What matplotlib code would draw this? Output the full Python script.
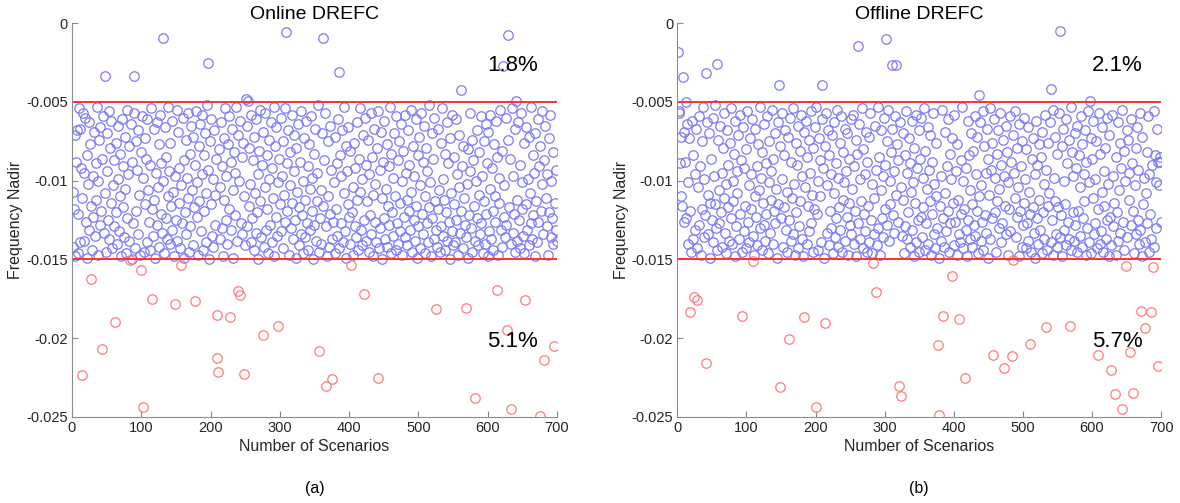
import numpy as np
import matplotlib.pyplot as plt

plt.rcParams['font.family'] = ['Liberation Sans', 'DejaVu Sans']

# frequency nadir in the normal band, 1e-4 units, scenario 1..700
online_band = [
    107, 142, 118, 148, 71, 88, 68, 146, 121, 54, 139, 67, 92, 111, 73, 57, 138, 95, 60, 126, 84, 149, 102, 63, 131,
    77, 116, 58, 144, 97, 123, 69, 135, 89, 112, 53, 147, 100, 74, 128, 66, 119, 86, 141, 59, 133, 81, 108, 145, 70,
    94, 125, 56, 137, 79, 114, 62, 143, 103, 87, 129, 52, 120, 76, 140, 99, 65, 132, 110, 83, 148, 61, 117, 91, 136,
    72, 105, 146, 55, 124, 96, 138, 78, 113, 64, 150, 88, 127, 57, 101, 143, 75, 119, 93, 134, 68, 109, 147, 82, 122,
    59, 130, 98, 145, 73, 115, 86, 139, 61, 106, 126, 90, 144, 54, 118, 80, 135, 67, 112, 149, 95, 63, 128, 104, 77,
    142, 58, 121, 89, 133, 71, 100, 146, 66, 124, 85, 137, 53, 110, 94, 140, 76, 116, 62, 131, 107, 148, 81, 97, 125,
    55, 138, 69, 114, 92, 143, 79, 103, 127, 60, 149, 87, 120, 74, 134, 98, 57, 111, 145, 83, 129, 65, 106, 141, 72,
    117, 90, 136, 56, 123, 101, 147, 78, 113, 64, 132, 96, 58, 144, 84, 119, 70, 139, 108, 52, 126, 93, 150, 75, 115,
    61, 135, 99, 142, 68, 109, 128, 86, 146, 57, 121, 80, 137, 104, 63, 130, 91, 148, 73, 112, 54, 125, 97, 140, 77,
    118, 59, 143, 88, 131, 67, 106, 149, 82, 122, 95, 53, 138, 71, 114, 100, 145, 62, 127, 85, 134, 76, 110, 56, 141,
    93, 129, 65, 147, 79, 116, 102, 139, 58, 124, 87, 144, 72, 108, 133, 61, 120, 96, 150, 81, 113, 55, 136, 90, 126,
    69, 142, 104, 57, 131, 84, 118, 146, 74, 99, 128, 63, 139, 92, 111, 53, 148, 78, 123, 66, 135, 101, 145, 86, 115,
    60, 132, 97, 143, 75, 109, 126, 54, 140, 89, 119, 68, 147, 103, 82, 130, 58, 114, 137, 94, 71, 125, 149, 79, 107,
    64, 141, 117, 88, 134, 56, 122, 100, 146, 73, 112, 136, 62, 127, 91, 144, 77, 105, 131, 59, 119, 98, 150, 83, 128,
    67, 138, 95, 113, 52, 145, 80, 124, 106, 140, 70, 116, 133, 87, 57, 129, 102, 148, 75, 110, 142, 65, 121, 93, 137,
    55, 126, 101, 146, 72, 118, 89, 135, 61, 111, 143, 84, 127, 97, 68, 139, 108, 53, 132, 78, 149, 94, 115, 66, 123,
    81, 140, 58, 120, 104, 147, 76, 129, 92, 136, 63, 112, 144, 86, 107, 54, 131, 99, 141, 71, 117, 125, 60, 138, 90,
    113, 74, 145, 96, 122, 57, 134, 85, 109, 148, 67, 126, 102, 139, 79, 118, 56, 143, 93, 130, 69, 111, 150, 88, 124,
    62, 137, 105, 142, 77, 116, 91, 128, 53, 146, 83, 120, 98, 135, 70, 110, 144, 59, 127, 87, 140, 75, 114, 132, 64,
    100, 147, 81, 123, 58, 136, 95, 112, 141, 68, 119, 90, 131, 55, 107, 145, 78, 125, 97, 138, 61, 116, 149, 84, 129,
    72, 103, 143, 57, 121, 88, 134, 65, 110, 146, 79, 127, 94, 139, 52, 117, 101, 148, 70, 124, 86, 137, 60, 113, 131,
    92, 142, 67, 118, 106, 145, 76, 129, 54, 135, 99, 112, 144, 83, 120, 63, 138, 89, 126, 150, 73, 108, 132, 58, 141,
    85, 115, 139, 61, 125, 96, 147, 71, 104, 133, 56, 119, 91, 143, 78, 111, 128, 65, 136, 102, 149, 80, 122, 94, 57,
    130, 74, 145, 87, 116, 53, 138, 100, 124, 68, 141, 82, 109, 134, 59, 127, 97, 146, 75, 113, 140, 64, 121, 89, 148,
    69, 132, 105, 58, 137, 92, 119, 144, 77, 110, 126, 62, 139, 85, 147, 98, 114, 55, 131, 81, 142, 71, 123, 103, 136,
    60, 128, 93, 149, 74, 117, 86, 140, 106, 54, 133, 97, 121, 67, 145, 79, 112, 138, 63, 125, 90, 143, 57, 118, 101,
    135, 76, 146, 88, 115, 66, 131, 99, 141, 72, 108, 127, 53, 137, 84, 122, 95, 148, 70, 113, 139, 61, 126, 91, 144,
    78, 119, 102, 56, 134, 87, 142, 65, 111, 129, 96, 147, 73, 120, 58, 136, 100, 124, 82, 140, 68, 114, 131, 93, 138,
]
offline_band = [
    55, 57, 56, 89, 110, 72, 116, 58, 126, 69, 88, 107, 124, 64, 140, 101, 73, 119, 93, 145, 62, 137, 84, 112, 96,
    131, 67, 143, 78, 104, 59, 128, 91, 147, 75, 118, 53, 136, 99, 122, 81, 141, 63, 109, 134, 70, 114, 149, 86, 125,
    60, 139, 97, 115, 52, 130, 88, 144, 74, 106, 127, 65, 120, 95, 142, 79, 111, 57, 133, 102, 146, 68, 117, 90, 138,
    76, 124, 54, 140, 100, 113, 83, 148, 62, 129, 94, 108, 71, 137, 58, 121, 87, 145, 104, 66, 132, 92, 116, 143, 80,
    56, 126, 103, 139, 73, 118, 96, 61, 135, 85, 147, 110, 67, 123, 91, 141, 77, 106, 53, 130, 98, 144, 82, 114, 128,
    64, 138, 89, 121, 59, 146, 101, 75, 133, 94, 112, 55, 140, 86, 119, 70, 127, 105, 149, 63, 115, 93, 136, 78, 124,
    99, 57, 142, 84, 117, 68, 131, 107, 145, 72, 96, 125, 60, 138, 88, 111, 54, 134, 102, 147, 76, 120, 90, 143, 65,
    129, 81, 113, 58, 137, 97, 148, 69, 122, 104, 62, 140, 85, 116, 74, 132, 95, 56, 127, 109, 145, 79, 118, 66, 135,
    53, 121, 100, 144, 73, 110, 87, 139, 61, 126, 92, 149, 78, 115, 57, 133, 103, 68, 141, 84, 119, 96, 130, 71, 146,
    108, 63, 136, 89, 124, 55, 142, 98, 117, 76, 131, 59, 145, 82, 112, 101, 67, 138, 94, 123, 70, 147, 86, 114, 128,
    61, 134, 105, 58, 140, 91, 119, 74, 148, 83, 110, 127, 64, 137, 99, 113, 54, 143, 80, 121, 96, 132, 69, 145, 88,
    116, 72, 139, 57, 125, 102, 146, 78, 111, 134, 65, 120, 93, 141, 53, 130, 85, 147, 106, 68, 124, 97, 136, 60, 118,
    90, 143, 75, 128, 55, 138, 100, 115, 82, 149, 67, 122, 94, 133, 59, 109, 140, 77, 126, 87, 144, 63, 117, 104, 135,
    70, 112, 146, 84, 129, 56, 137, 95, 120, 73, 142, 89, 107, 62, 131, 101, 148, 79, 114, 58, 139, 92, 125, 68, 145,
    86, 123, 60, 136, 98, 117, 54, 144, 81, 127, 105, 66, 140, 93, 113, 71, 147, 88, 121, 57, 134, 102, 143, 76, 110,
    130, 64, 149, 85, 116, 97, 138, 55, 124, 79, 142, 108, 69, 132, 91, 119, 61, 145, 83, 127, 99, 136, 73, 114, 141,
    58, 126, 94, 147, 77, 112, 134, 66, 139, 87, 121, 53, 143, 100, 118, 74, 131, 92, 148, 62, 125, 84, 137, 106, 70,
    115, 142, 81, 128, 59, 135, 96, 119, 72, 146, 89, 110, 63, 138, 103, 126, 56, 144, 78, 122, 95, 133, 67, 149, 86,
    109, 54, 137, 93, 124, 76, 141, 61, 120, 98, 145, 83, 113, 68, 130, 105, 57, 139, 90, 127, 74, 143, 97, 116, 65,
    134, 82, 147, 101, 118, 59, 132, 88, 125, 71, 140, 95, 111, 56, 136, 79, 123, 104, 148, 64, 119, 91, 142, 75, 128,
    60, 114, 99, 143, 80, 127, 66, 138, 107, 121, 54, 145, 86, 117, 73, 133, 96, 149, 62, 124, 90, 140, 77, 112, 131,
    85, 146, 69, 120, 102, 137, 58, 129, 93, 144, 76, 116, 108, 63, 139, 87, 125, 55, 147, 98, 113, 72, 134, 83, 142,
    117, 57, 136, 94, 122, 78, 148, 67, 131, 100, 115, 61, 141, 89, 126, 74, 137, 106, 53, 144, 82, 120, 97, 138, 70,
    128, 92, 145, 65, 119, 84, 135, 104, 59, 142, 77, 124, 96, 113, 68, 147, 88, 130, 56, 139, 101, 121, 73, 146, 86,
    111, 62, 134, 99, 127, 75, 143, 91, 118, 57, 140, 83, 132, 107, 66, 145, 94, 116, 79, 137, 60, 125, 102, 148, 71,
    123, 87, 141, 58, 129, 97, 114, 70, 147, 85, 120, 63, 138, 106, 76, 133, 92, 149, 55, 126, 81, 144, 100, 117, 68,
    136, 74, 112, 95, 143, 61, 128, 89, 119, 54, 146, 103, 79, 134, 66, 125, 93, 140, 57, 131, 86, 148, 72, 115, 98,
    64, 139, 108, 82, 127, 59, 145, 96, 121, 73, 137, 90, 113, 56, 142, 84, 130, 101, 67, 124, 88, 103, 85, 88, 126,
]

# scenarios outside the band (scenario number, nadir)
online_out_x = [47, 90, 131, 196, 251, 254, 309, 363, 385, 561, 622, 629, 641,
                15, 28, 44, 62, 84, 100, 102, 116, 148, 157, 178, 209, 210, 211, 228, 240, 242, 249,
                275, 298, 357, 367, 376, 403, 421, 441, 526, 568, 581, 613, 628, 634, 654, 675, 682, 696]
online_out_y = [-0.00336, -0.00336, -0.00093, -0.00256, -0.00482, -0.00495, -0.00059, -0.00093, -0.00313,
                -0.00423, -0.00273, -0.00076, -0.00495,
                -0.02236, -0.01627, -0.02067, -0.01895, -0.01502, -0.01568, -0.02439, -0.01749, -0.01785,
                -0.01534, -0.01764, -0.02124, -0.01855, -0.02217, -0.01868, -0.01703, -0.01724, -0.02229,
                -0.01980, -0.01925, -0.02081, -0.02305, -0.02259, -0.01534, -0.01718, -0.02251, -0.01817,
                -0.01809, -0.02382, -0.01695, -0.01948, -0.02449, -0.01755, -0.02494, -0.02138, -0.02052]
offline_out_x = [1, 8, 12, 42, 57, 147, 210, 261, 302, 310, 317, 436, 541, 554, 597,
                 19, 24, 29, 41, 94, 110, 148, 161, 184, 200, 214, 283, 287, 321, 323, 377, 379, 385, 397,
                 408, 416, 457, 472, 484, 486, 511, 533, 568, 608, 627, 633, 643, 649, 655, 660, 671, 676,
                 685, 688, 695]
offline_out_y = [-0.00183, -0.00345, -0.00498, -0.00316, -0.00259, -0.00394, -0.00390, -0.00143, -0.00101,
                 -0.00267, -0.00267, -0.00457, -0.00415, -0.00048, -0.00497,
                 -0.01836, -0.01739, -0.01758, -0.02158, -0.01862, -0.01508, -0.02308, -0.02003, -0.01864,
                 -0.02439, -0.01902, -0.01525, -0.01705, -0.02301, -0.02366, -0.02045, -0.02487, -0.01857,
                 -0.01606, -0.01880, -0.02252, -0.02105, -0.02189, -0.02113, -0.01503, -0.02035, -0.01929,
                 -0.01925, -0.02105, -0.02200, -0.02352, -0.02451, -0.01542, -0.02086, -0.02350, -0.01828,
                 -0.01935, -0.01834, -0.01549, -0.02179]

titles = ['Online DREFC', 'Offline DREFC']
panel_labels = ['(a)', '(b)']
pct_upper = ['1.8%', '2.1%']
pct_lower = ['5.1%', '5.7%']
limits = [-0.005, -0.015]


def nadir(band, out_x, out_y):
    y = np.array(band) * -1e-4
    y[np.array(out_x) - 1] = out_y
    return y


fig = plt.figure(figsize=(11.8, 5.03), dpi=100)
boxes = [[0.061, 0.171, 0.411, 0.783], [0.574, 0.171, 0.410, 0.783]]
data = [nadir(online_band, online_out_x, online_out_y),
        nadir(offline_band, offline_out_x, offline_out_y)]
x = np.arange(1, 701)

for i in range(2):
    ax = fig.add_axes(boxes[i])
    y = data[i]
    low = y < -0.01501
    ax.plot(x[~low], y[~low], 'o', mfc='none', mec='#7b7bf7', ms=6.8, mew=0.9)
    ax.plot(x[low], y[low], 'o', mfc='none', mec='#ff7b7b', ms=6.8, mew=0.9)
    for lim in limits:
        ax.axhline(lim, color='#ff3030', lw=1.4)
    ax.set_xlim(0, 700)
    ax.set_ylim(-0.025, 0)
    ax.set_xticks(np.arange(0, 701, 100))
    ax.set_yticks([-0.025, -0.02, -0.015, -0.01, -0.005, 0])
    ax.set_yticklabels(['-0.025', '-0.02', '-0.015', '-0.01', '-0.005', '0'])
    ax.spines['top'].set_visible(False)
    ax.spines['right'].set_visible(False)
    for s in ['left', 'bottom']:
        ax.spines[s].set_color('#8c8c8c')
        ax.spines[s].set_linewidth(0.8)
    ax.tick_params(direction='in', length=4, width=0.8, color='#8c8c8c', labelcolor='#262626',
                   labelsize=10.5, pad=3)
    ax.set_title(titles[i], fontsize=14, pad=3)
    ax.set_xlabel('Number of Scenarios', fontsize=11.5, color='#262626', labelpad=3)
    ax.set_ylabel('Frequency Nadir', fontsize=11.5, color='#262626', labelpad=2)
    ax.text(636, -0.0027, pct_upper[i], fontsize=16, ha='center', va='center')
    ax.text(636, -0.0202, pct_lower[i], fontsize=16, ha='center', va='center')
    fig.text(boxes[i][0] + boxes[i][2] / 2, 0.028, panel_labels[i], fontsize=11.5,
             ha='center', va='center')

fig.savefig('out.png', dpi=100)
